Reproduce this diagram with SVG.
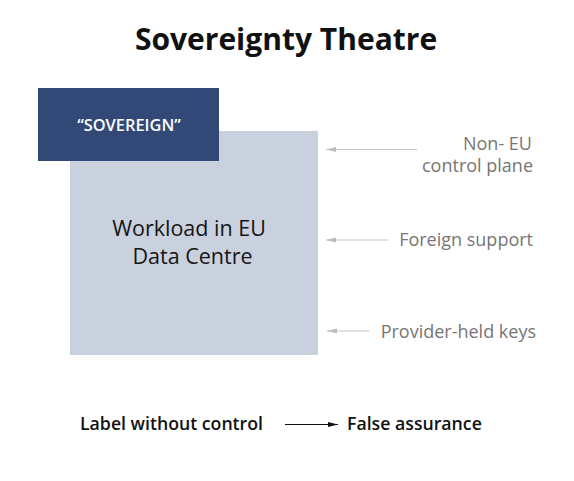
<svg xmlns="http://www.w3.org/2000/svg" width="574" height="481" viewBox="0 0 574 481">
<style>
.title{font-family:"Open Sans",sans-serif;font-weight:bold;font-size:30px;fill:#111;}
.main{font-family:"Open Sans",sans-serif;font-size:21.5px;fill:#151515;}
.side{font-family:"Open Sans",sans-serif;font-size:18px;fill:#767676;}
.bottom{font-family:"Open Sans",sans-serif;font-size:17.7px;font-weight:600;fill:#111;}
.gl{stroke:#c4c4c4;stroke-width:1.2;fill:none;}
</style>
<defs>
<marker id="ga" viewBox="0 0 10 6" refX="10" refY="3" markerWidth="10" markerHeight="6" orient="auto" markerUnits="userSpaceOnUse"><path d="M0,0.5 L10,3 L0,5.5 z" fill="#bdbdbd"/></marker>
<marker id="ba" viewBox="0 0 10 6" refX="10" refY="3" markerWidth="10" markerHeight="6" orient="auto" markerUnits="userSpaceOnUse"><path d="M0,0.5 L10,3 L0,5.5 z" fill="#111"/></marker>
</defs>
<text class="title" x="286" y="50" text-anchor="middle">Sovereignty Theatre</text>
<g id="workload">
<rect x="70" y="131" width="248" height="224" fill="#cad1de"/>
<text class="main" x="189" y="236" text-anchor="middle">Workload in EU</text>
<text class="main" x="192.5" y="264" text-anchor="middle">Data Centre</text>
</g>
<g id="sovereign">
<rect x="38" y="88" width="181" height="73" fill="#324876"/>
<text x="129" y="131" text-anchor="middle" font-family="Open Sans, sans-serif" font-size="16.4" font-weight="600" fill="#fff">“SOVEREIGN”</text>
</g>
<g id="lbl-control">
<text class="side" x="532" y="150" text-anchor="end">Non- EU</text>
<text class="side" x="533" y="172" text-anchor="end">control plane</text>
</g>
<g id="lbl-support">
<text class="side" x="533" y="246" text-anchor="end">Foreign support</text>
</g>
<g id="lbl-keys">
<text class="side" x="536" y="338" text-anchor="end">Provider-held keys</text>
</g>
<g id="lbl-label">
<text class="bottom" x="80" y="430">Label without control</text>
</g>
<g id="lbl-false">
<text class="bottom" x="347" y="430">False assurance</text>
</g>
<g id="connectors">
<line class="gl" x1="417" y1="149.5" x2="326" y2="149.5" marker-end="url(#ga)"/>
<line class="gl" x1="388" y1="240" x2="326" y2="240" marker-end="url(#ga)"/>
<line class="gl" x1="369" y1="331" x2="327" y2="331" marker-end="url(#ga)"/>
<line x1="285" y1="424.5" x2="338" y2="424.5" stroke="#111" stroke-width="1.2" marker-end="url(#ba)"/>
</g>
</svg>
